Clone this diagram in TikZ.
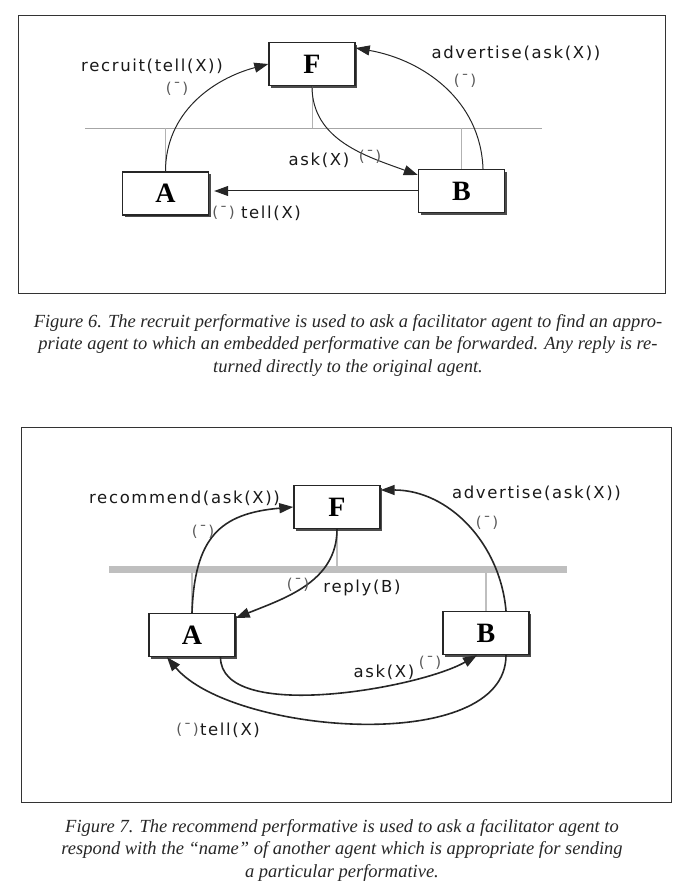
\documentclass[tikz,border=0pt]{standalone}
\usepackage{fontspec}
\setmainfont{Liberation Serif}
\newfontfamily\msgfont[LetterSpace=10]{DejaVu Sans}
\usetikzlibrary{positioning, arrows.meta, shadows}

\tikzset{
  agent/.style={draw=black!85, line width=1.4pt, fill=white,
    minimum width=86pt, minimum height=43pt, inner sep=0pt,
    font=\fontsize{28}{28}\selectfont\bfseries,
    drop shadow={shadow xshift=2.2pt, shadow yshift=-2.2pt,
      fill=black!70, opacity=1}},
  msg/.style={font=\msgfont\fontsize{16.5}{16.5}\selectfont, inner sep=0pt,
    text=black!90},
  num/.style={font=\msgfont\fontsize{15}{15}\selectfont, inner sep=0pt,
    text=black!65},
  link/.style={draw=black!85, line width=1pt,
    -{Triangle[length=14pt,width=10pt]}},
  linkb/.style={link, line width=1.6pt},
  bus/.style={draw=black!35, line width=0.8pt},
  busb/.style={draw=black!25, line width=7pt},
  stub/.style={draw=black!30, line width=0.8pt},
  stubb/.style={draw=black!25, line width=2.5pt},
  frame/.style={draw=black!80, line width=1pt},
  caption/.style={font=\fontsize{18.5}{22.5}\selectfont\itshape,
    align=center, text=black!85, inner sep=0pt}
}

\begin{document}
\begin{tikzpicture}[x=1pt, y=-1pt]
  \useasboundingbox (0,0) rectangle (688,885);

  % figure 6: recruit
  \draw [frame] (18,16) rectangle (665,293);
  \coordinate (busL) at (85,128);
  \coordinate (busR) at (542,128);
  \draw [bus] (busL) -- (busR);

  \node [agent] (F) at (312,64) {F};
  \node [agent] (A) at (165.5,193.5) {A};
  \node [agent] (B) at (461.5,191) {B};

  \draw [stub] (A.north) -- (A.north |- busL);
  \draw [stub] (F.south) -- (F.south |- busL);
  \draw [stub] (B.north) -- (B.north |- busL);

  \draw [link] (A.north) to [out=90, in=195] (F.west);
  \draw [link] ([xshift=21.5pt]B.north) to [out=92, in=-10]
    ([yshift=16pt]F.east);
  \draw [link] (F.south) to [out=-90, in=160] ([yshift=16pt]B.west);
  \draw [link, shorten >=5pt] (B.west) -- (B.west -| A.east);

  \node [msg] (recruit) at (152,66) {recruit(tell(X))};
  \node [num] (n1) at (177,89) {(¯)};
  \node [msg] (advF) at (516,53) {advertise(ask(X))};
  \node [num] (n2) at (465,81) {(¯)};
  \node [msg] (askB) at (319,160) {ask(X)};
  \node [num] (n3) at (370,157) {(¯)};
  \node [msg] (tellA) at (271,213) {tell(X)};
  \node [num, left=6pt of tellA] (n4) {(¯)};

  \node [caption] (cap6) at (348,345) {Figure 6. The recruit performative
    is used to ask a facilitator agent to find an appro-\\ priate agent to
    which an embedded performative can be forwarded. Any reply is re-\\
    turned directly to the original agent.};

  % figure 7: recommend
  \draw [frame] (21,427) rectangle (671,802);
  \coordinate (barL) at (109,569);
  \coordinate (barR) at (567,569);

  \node [agent] (F7) at (337,507) {F};
  \node [agent] (A7) at (192,635) {A};
  \node [agent] (B7) at (486,633) {B};

  \draw [stubb] (F7.south) -- (F7.south |- barL);
  \draw [stubb] (A7.north) -- (A7.north |- barL);
  \draw [stubb] (B7.north) -- (B7.north |- barL);
  \draw [busb] (barL) -- (barR);

  \draw [linkb] (A7.north) to [out=88, in=185, looseness=1.3] (F7.west);
  \draw [linkb] ([xshift=20pt]B7.north) to [out=95, in=0]
    ([yshift=17pt]F7.east);
  \draw [linkb] (F7.south) to [out=-90, in=22] ([yshift=17pt]A7.east);
  \draw [linkb] ([xshift=28.5pt]A7.south) to [out=-90, in=-150,
    looseness=0.66] ([xshift=-9pt]B7.south);
  \draw [linkb] ([xshift=20pt]B7.south) to [out=-90, in=-50,
    looseness=0.76] ([xshift=-25pt]A7.south);

  \node [msg] (recommend) at (184.5,498) {recommend(ask(X))};
  \node [num] (m1) at (203,532) {(¯)};
  \node [msg] (adv7) at (536.5,493) {advertise(ask(X))};
  \node [num] (m2) at (487,523) {(¯)};
  \node [msg] (reply) at (362,588) {reply(B)};
  \node [num] (m3) at (298,585) {(¯)};
  \node [msg] (ask7) at (384,672) {ask(X)};
  \node [num] (m4) at (430,663) {(¯)};
  \node [msg] (tell7) at (230,730) {tell(X)};
  \node [num, left=1pt of tell7] (m5) {(¯)};

  \node [caption] (cap7) at (342,850) {Figure 7. The recommend performative
    is used to ask a facilitator agent to\\ respond with the “name” of
    another agent which is appropriate for sending\\ a particular
    performative.};
\end{tikzpicture}
\end{document}
